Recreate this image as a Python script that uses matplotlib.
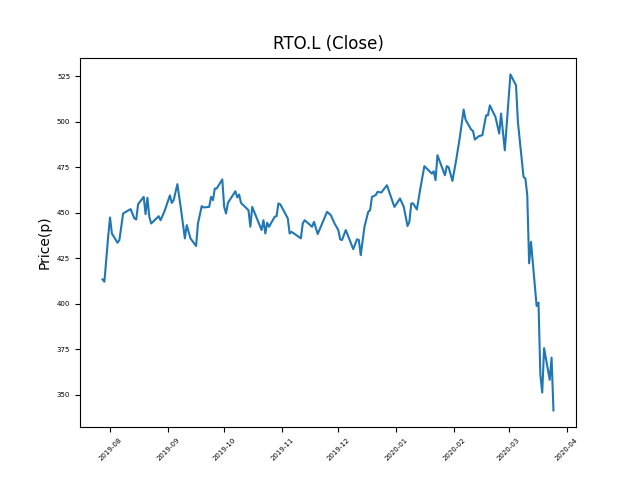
import matplotlib
matplotlib.use("Agg")
import matplotlib.pyplot as plt
import matplotlib.dates as mdates
import pandas as pd

# closing prices
dates = [
    "2019-07-28", "2019-07-29", "2019-07-31", "2019-08-01", "2019-08-02",
    "2019-08-05", "2019-08-06", "2019-08-08", "2019-08-12", "2019-08-14",
    "2019-08-15", "2019-08-16", "2019-08-19", "2019-08-20", "2019-08-21",
    "2019-08-22", "2019-08-23", "2019-08-27", "2019-08-28", "2019-08-30",
    "2019-09-02", "2019-09-03", "2019-09-04", "2019-09-06", "2019-09-08",
    "2019-09-10", "2019-09-11", "2019-09-13", "2019-09-16", "2019-09-17",
    "2019-09-19", "2019-09-20", "2019-09-23", "2019-09-24", "2019-09-25",
    "2019-09-26", "2019-09-27", "2019-09-30", "2019-10-01", "2019-10-02",
    "2019-10-03", "2019-10-07", "2019-10-08", "2019-10-09", "2019-10-10",
    "2019-10-14", "2019-10-15", "2019-10-16", "2019-10-21", "2019-10-22",
    "2019-10-23", "2019-10-24", "2019-10-25", "2019-10-28", "2019-10-29",
    "2019-10-30", "2019-10-31", "2019-11-04", "2019-11-05", "2019-11-06",
    "2019-11-08", "2019-11-11", "2019-11-12", "2019-11-13", "2019-11-17",
    "2019-11-18", "2019-11-20", "2019-11-25", "2019-11-27", "2019-11-29",
    "2019-12-01", "2019-12-02", "2019-12-03", "2019-12-05", "2019-12-09",
    "2019-12-11", "2019-12-12", "2019-12-13", "2019-12-15", "2019-12-17",
    "2019-12-18", "2019-12-19", "2019-12-21", "2019-12-22", "2019-12-24",
    "2019-12-27", "2019-12-31", "2020-01-03", "2020-01-05", "2020-01-07",
    "2020-01-08", "2020-01-09", "2020-01-10", "2020-01-12", "2020-01-14",
    "2020-01-16", "2020-01-20", "2020-01-21", "2020-01-22", "2020-01-23",
    "2020-01-27", "2020-01-28", "2020-01-29", "2020-01-31", "2020-02-02",
    "2020-02-04", "2020-02-06", "2020-02-07", "2020-02-10", "2020-02-11",
    "2020-02-12", "2020-02-14", "2020-02-16", "2020-02-18", "2020-02-19",
    "2020-02-20", "2020-02-23", "2020-02-25", "2020-02-26", "2020-02-28",
    "2020-03-02", "2020-03-05", "2020-03-06", "2020-03-09", "2020-03-10",
    "2020-03-11", "2020-03-12", "2020-03-13", "2020-03-16", "2020-03-17",
    "2020-03-18", "2020-03-19", "2020-03-20", "2020-03-23", "2020-03-24",
    "2020-03-25",
]
close = [
    413.3, 412.0, 436.7, 447.3, 438.5,
    433.4, 434.9, 449.5, 451.9, 446.8,
    446.2, 454.6, 458.6, 449.1, 458.1,
    447.7, 444.0, 448.0, 445.8, 450.4,
    459.4, 455.3, 456.8, 465.6, 451.3,
    435.8, 443.1, 435.8, 431.6, 444.0,
    453.5, 452.8, 453.1, 458.6, 456.8,
    463.2, 463.2, 468.2, 453.1, 449.5,
    455.3, 461.7, 458.3, 459.9, 455.3,
    451.3, 442.2, 453.1, 440.4, 445.8,
    438.5, 444.4, 442.2, 447.7, 448.0,
    455.0, 454.5, 446.8, 438.5, 439.4,
    438.0, 435.8, 444.0, 445.8, 442.2,
    444.9, 438.2, 450.4, 448.6, 444.0,
    440.4, 435.3, 434.9, 440.4, 429.9,
    435.3, 434.9, 426.6, 442.2, 450.4,
    451.3, 458.6, 459.6, 461.4, 461.0,
    465.0, 453.1, 457.7, 453.1, 442.6,
    444.9, 455.0, 455.0, 451.7, 464.1,
    475.5, 471.4, 472.7, 467.8, 481.5,
    470.5, 475.5, 474.8, 467.4, 478.8,
    491.6, 506.6, 501.1, 495.6, 494.8,
    490.1, 491.9, 492.5, 503.4, 503.4,
    508.9, 502.5, 493.4, 504.4, 484.2,
    525.9, 519.9, 499.8, 469.6, 468.7,
    459.6, 422.1, 433.9, 398.7, 400.5,
    360.9, 351.1, 375.5, 358.1, 370.3,
    341.3,
]

df = pd.DataFrame({"Close": close}, index=pd.to_datetime(dates))

fig, ax = plt.subplots(figsize=(6.4, 4.8), dpi=100)
ax.plot(df.index, df["Close"])

ax.set_title("RTO.L (Close)")
ax.set_ylabel("Price(p)")
ax.xaxis.set_major_locator(mdates.MonthLocator())
ax.xaxis.set_major_formatter(mdates.DateFormatter("%Y-%m"))
plt.setp(ax.get_xticklabels(), rotation=45, fontsize=5)
plt.setp(ax.get_yticklabels(), fontsize=5)

fig.savefig("out.png")
